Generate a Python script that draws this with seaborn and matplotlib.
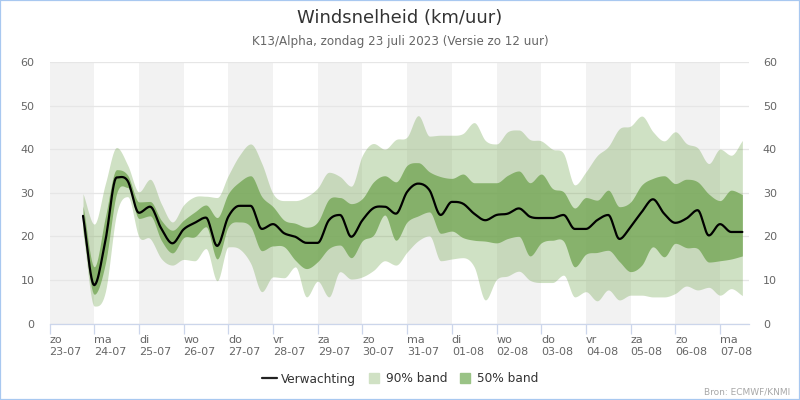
import numpy as np
import pandas as pd
import matplotlib
matplotlib.use("Agg")
import matplotlib.pyplot as plt
from matplotlib.lines import Line2D
import seaborn as sns

sns.set_theme(style="white")
plt.rcParams['font.family'] = ['DejaVu Sans']

# days since Sunday 23-07 00:00, one value every 6 hours
START_DAY = 0.75
STEP_DAY = 0.25

forecast = [24.7, 8.8, 19.0, 33.5, 32.7, 25.4, 26.8, 21.8, 18.4, 21.6, 23.1, 24.3, 17.8, 24.5, 27.0, 27.0,
            21.7, 22.8, 20.7, 19.9, 18.5, 18.5, 23.7, 24.9, 19.9, 23.7, 26.5, 26.8, 25.2, 30.2, 32.1, 30.6,
            24.9, 27.9, 27.5, 25.2, 23.7, 24.9, 25.2, 26.4, 24.5, 24.2, 24.2, 24.9, 21.7, 21.7, 23.7, 24.9,
            19.4, 22.2, 25.6, 28.5, 25.2, 23.1, 24.1, 26.0, 20.2, 22.8, 21.0, 21.0]
p90_high = [29.8, 22.8, 32.1, 40.4, 36.3, 30.2, 33.1, 27.5, 23.3, 27.2, 29.1, 29.2, 28.9, 34.0, 38.6, 41.2,
            36.7, 29.8, 28.2, 28.2, 29.1, 31.1, 34.7, 33.7, 31.5, 38.6, 41.3, 40.0, 42.2, 42.8, 47.7, 43.0,
            43.2, 43.2, 43.6, 46.1, 42.0, 41.2, 44.0, 44.4, 42.2, 41.9, 40.0, 39.0, 31.8, 34.8, 38.5, 40.6,
            44.7, 45.3, 47.6, 44.0, 41.9, 44.0, 41.3, 40.3, 36.7, 40.0, 38.6, 42.0]
p50_high = [27.0, 13.0, 24.5, 35.3, 34.0, 27.9, 28.0, 23.7, 21.4, 23.7, 25.6, 27.2, 24.3, 29.8, 32.5, 33.9,
            29.1, 26.8, 23.7, 23.0, 22.1, 23.3, 28.5, 28.9, 27.5, 28.7, 32.5, 33.9, 32.5, 36.3, 36.9, 34.8,
            33.7, 33.3, 34.3, 32.3, 32.3, 32.3, 34.0, 35.0, 32.3, 34.3, 31.0, 30.2, 26.5, 28.9, 28.3, 30.6,
            26.8, 27.9, 31.8, 33.3, 33.9, 32.1, 33.1, 32.5, 29.7, 28.2, 30.6, 29.6]
p50_low = [21.4, 6.7, 13.8, 29.8, 31.2, 24.1, 24.7, 19.1, 16.2, 19.7, 19.9, 22.2, 14.8, 22.2, 23.3, 22.2,
           16.7, 17.8, 17.6, 14.5, 12.6, 14.2, 17.2, 18.0, 15.1, 19.0, 20.3, 24.9, 19.1, 23.3, 24.7, 25.6,
           20.7, 21.2, 19.7, 19.1, 18.9, 18.5, 19.5, 20.0, 15.5, 18.5, 19.1, 18.9, 13.0, 15.9, 16.3, 16.8,
           14.2, 11.9, 13.4, 17.6, 15.3, 18.4, 17.4, 17.2, 14.1, 14.4, 14.8, 15.5]
p90_low = [20.7, 4.0, 7.3, 25.2, 29.1, 19.9, 19.5, 14.9, 13.4, 14.7, 14.4, 17.2, 9.8, 17.6, 17.1, 13.8,
           7.3, 10.7, 10.5, 13.0, 6.1, 9.7, 6.1, 11.9, 10.2, 10.7, 12.2, 14.4, 13.4, 16.4, 19.0, 20.1,
           14.4, 14.8, 15.1, 13.0, 5.4, 10.1, 10.9, 12.0, 9.9, 9.4, 9.4, 11.1, 6.1, 7.3, 5.2, 7.7,
           5.4, 6.5, 6.5, 6.1, 6.1, 6.9, 8.6, 7.7, 8.3, 6.5, 8.0, 6.4]

weekdays = ["zo", "ma", "di", "wo", "do", "vr", "za", "zo", "ma", "di", "wo", "do", "vr", "za", "zo", "ma"]
dates = ["23-07", "24-07", "25-07", "26-07", "27-07", "28-07", "29-07", "30-07",
         "31-07", "01-08", "02-08", "03-08", "04-08", "05-08", "06-08", "07-08"]
y_ticks = [0, 10, 20, 30, 40, 50, 60]


def smooth(values, per=12):
    """Monotone cubic curve through the read values, as the source chart draws a spline."""
    v = np.asarray(values, float)
    m = np.gradient(v)
    d = np.diff(v)
    for i in range(1, len(v) - 1):
        if d[i - 1] * d[i] <= 0:
            m[i] = 0.0
    out = []
    for i in range(len(v) - 1):
        s = np.linspace(0, 1, per, endpoint=False)
        out.append((2*s**3 - 3*s**2 + 1) * v[i] + (s**3 - 2*s**2 + s) * m[i]
                   + (-2*s**3 + 3*s**2) * v[i+1] + (s**3 - s**2) * m[i+1])
    out.append([v[-1]])
    return np.concatenate(out)


n = len(forecast)
per = 12
t_fine = START_DAY + STEP_DAY / per * np.arange((n - 1) * per + 1)
df = pd.DataFrame({"t": t_fine, "Verwachting": smooth(forecast, per)})

W, H = 800, 400
fig = plt.figure(figsize=(W / 100, H / 100), dpi=100, facecolor="white")
L, R, T, B = 49.5, 749, 62, 323.5
ax = fig.add_axes([L / W, 1 - B / H, (R - L) / W, (B - T) / H])
ax.set_facecolor("white")

GREY = "#666666"
for d in range(0, 16, 2):
    ax.axvspan(d, d + 1, color="#f2f2f2", lw=0, zorder=0)

band90 = "#78a956"
band50 = "#6fa34f"
ax.fill_between(t_fine, smooth(p90_low, per), smooth(p90_high, per), color=band90, alpha=0.35, lw=0, zorder=2)
ax.fill_between(t_fine, smooth(p50_low, per), smooth(p50_high, per), color=band50, alpha=0.75, lw=0, zorder=3)
sns.lineplot(data=df, x="t", y="Verwachting", color="black", lw=1.6, ax=ax, zorder=4, legend=False)

ax.set_xlim(0, (R - L) / 44.7)
ax.set_ylim(0, 60)
ax.set_xlabel("")
ax.set_ylabel("")
ax.set_yticks(y_ticks)
ax.grid(axis="y", color="#e6e6e6", lw=0.9, zorder=1)
ax.set_axisbelow(True)
for s in ["top", "left", "right"]:
    ax.spines[s].set_visible(False)
ax.spines["bottom"].set_color("#ccd6eb")
ax.spines["bottom"].set_linewidth(0.9)
ax.set_xticks(range(16))
ax.set_xticklabels([f"{a}\n{b}" for a, b in zip(weekdays, dates)], ha="left", fontsize=8,
                   color=GREY, linespacing=1.3)
ax.tick_params(axis="x", length=7, width=0.9, color="#ccd6eb", pad=1, bottom=True)
ax.tick_params(axis="y", length=0, labelsize=8, labelcolor=GREY, pad=10.8, left=False)

ax2 = ax.twinx()
ax2.set_ylim(0, 60)
ax2.set_yticks(y_ticks)
ax2.tick_params(axis="y", length=0, labelsize=8, labelcolor=GREY, pad=10)
ax2.grid(False)
for s in ax2.spines.values():
    s.set_visible(False)

fig.text(400 / W, 1 - 18 / H, "Windsnelheid (km/uur)", ha="center", va="center", fontsize=13, color="#333333")
fig.text(400 / W, 1 - 42 / H, "K13/Alpha, zondag 23 juli 2023 (Versie zo 12 uur)", ha="center", va="center",
         fontsize=8.6, color=GREY)
fig.text(790 / W, 1 - 392 / H, "Bron: ECMWF/KNMI", ha="right", va="center", fontsize=6.5, color="#a8a8a8")

handles = [Line2D([], [], color="#222222", lw=1.6),
           Line2D([], [], color="#d0e1c4", marker="s", ms=7.5, ls="none"),
           Line2D([], [], color="#9ac386", marker="s", ms=7.5, ls="none")]
fig.legend(handles, ["Verwachting", "90% band", "50% band"], loc="center", bbox_to_anchor=(400 / W, 1 - 379 / H),
           ncol=3, frameon=False, fontsize=8.7, labelcolor="#333333", handlelength=1.3, handletextpad=0.3,
           columnspacing=0.85, borderpad=0)

fig.add_artist(plt.Rectangle((0, 0), 1, 1, transform=fig.transFigure, fill=False, ec="#a8c8f0", lw=1.6))

fig.savefig("out.png", dpi=100, facecolor="white")
